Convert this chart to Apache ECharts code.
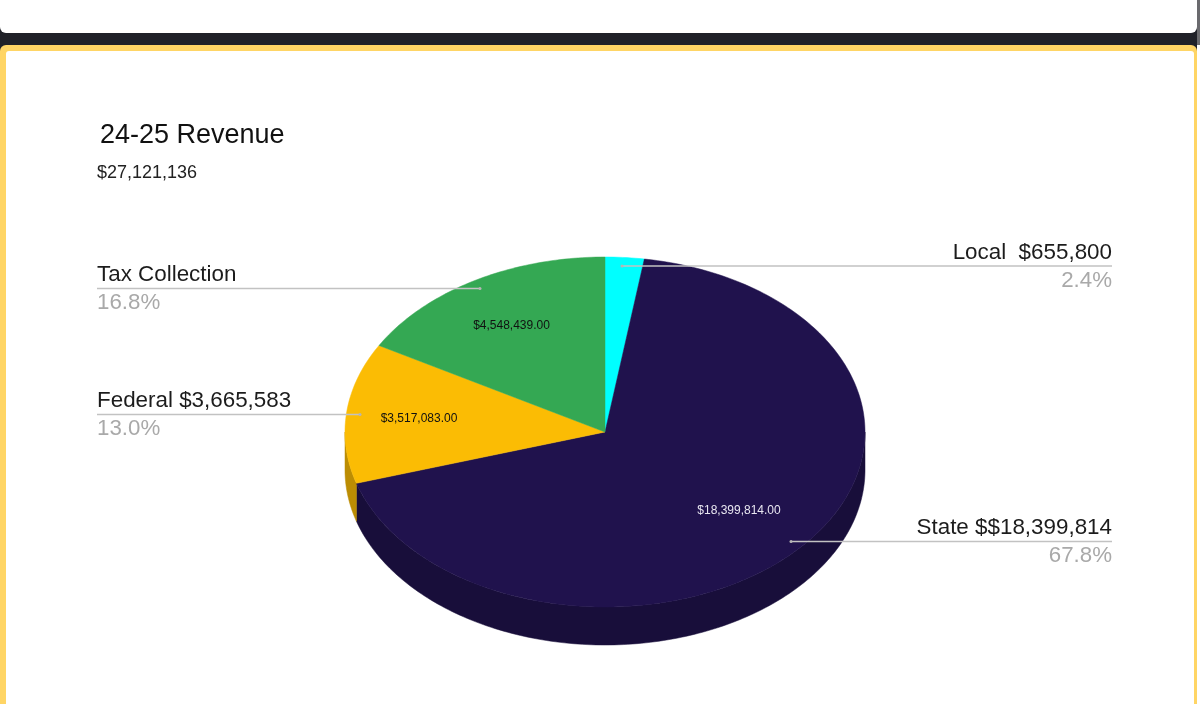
<!DOCTYPE html>
<html>
<head>
<meta charset="utf-8">
<style>html,body{margin:0;padding:0;background:#fff}#c{width:1200px;height:704px}</style>
<script src="https://cdn.jsdelivr.net/npm/echarts@6/dist/echarts.min.js"></script>
</head>
<body>
<div id="c"></div>
<script>
const categories = ['Local', 'State', 'Federal', 'Tax Collection'];
const values = [655800, 18399814, 3517083, 4548439];
const outerLabels = ['Local  $655,800', 'State $$18,399,814', 'Federal $3,665,583', 'Tax Collection'];
const percentLabels = ['2.4%', '67.8%', '13.0%', '16.8%'];
const valueLabels = ['', '$18,399,814.00', '$3,517,083.00', '$4,548,439.00'];
const titleText = '24-25 Revenue';
const subtitleText = '$27,121,136';

const topColors = ['#00FFFF', '#20124D', '#FBBC04', '#34A853'];
const sideColors = ['#00BFBF', '#180E3A', '#BC8D03', '#277E3E'];
const valueColors = ['#000', '#E8E6F0', '#111', '#111'];

const PIE = { cx: 605, cy: 432, rx: 260, ry: 175, depth: 38 };
// leader: anchor x, line y, line end x, text align, value-label centre
const LAYOUT = [
  { ax: 622, ly: 265.5, ex: 1112, align: 'right', vx: 0, vy: 0 },
  { ax: 791, ly: 541, ex: 1112, align: 'right', vx: 739, vy: 511 },
  { ax: 360, ly: 414, ex: 97, align: 'left', vx: 419, vy: 419 },
  { ax: 480, ly: 288, ex: 97, align: 'left', vx: 511.5, vy: 326 }
];

const total = values.reduce((a, b) => a + b, 0);
const rad = d => d * Math.PI / 180;
const pt = (deg, dy) => [
  PIE.cx + PIE.rx * Math.sin(rad(deg)),
  PIE.cy - PIE.ry * Math.cos(rad(deg)) + (dy || 0)
];
function arc(from, to, dy) {
  const n = Math.max(2, Math.ceil(Math.abs(to - from)));
  const out = [];
  for (let i = 0; i <= n; i++) out.push(pt(from + (to - from) * i / n, dy));
  return out;
}

function renderSlice(params, api) {
  const i = params.dataIndex;
  let acc = 0;
  for (let k = 0; k < i; k++) acc += values[k];
  const a0 = acc / total * 360;
  const a1 = (acc + api.value(0)) / total * 360;
  const children = [];

  const s0 = Math.max(a0, 90), s1 = Math.min(a1, 270);
  if (s1 > s0) {
    const side = arc(s0, s1, 0).concat(arc(s1, s0, PIE.depth));
    children.push({
      type: 'polygon', z2: 1, shape: { points: side },
      style: { fill: sideColors[i], stroke: sideColors[i], lineWidth: 0.5 }
    });
  }
  const top = [[PIE.cx, PIE.cy]].concat(arc(a0, a1, 0));
  children.push({
    type: 'polygon', z2: 2, shape: { points: top },
    style: { fill: topColors[i], stroke: topColors[i], lineWidth: 0.5 }
  });
  return { type: 'group', children };
}

function renderAnnotation(params, api) {
  const i = params.dataIndex;
  const L = LAYOUT[i];
  const children = [];
  children.push({
    type: 'line', z2: 5,
    shape: { x1: L.ax, y1: L.ly + 0.5, x2: L.ex, y2: L.ly + 0.5 },
    style: { stroke: '#C2C2C2', lineWidth: 1.4 }
  });
  children.push({
    type: 'circle', z2: 6, shape: { cx: L.ax, cy: L.ly + 0.5, r: 1.5 },
    style: { fill: '#B5B5B5' }
  });
  children.push({
    type: 'text', z2: 7,
    style: {
      x: L.ex, y: L.ly - 13, text: outerLabels[i], align: L.align, verticalAlign: 'middle',
      fill: '#1c1c1c', font: '22.4px "Liberation Sans", Arial, sans-serif'
    }
  });
  children.push({
    type: 'text', z2: 7,
    style: {
      x: L.ex, y: L.ly + 15, text: percentLabels[i], align: L.align, verticalAlign: 'middle',
      fill: '#A9A9A9', font: '22.3px "Liberation Sans", Arial, sans-serif'
    }
  });
  if (valueLabels[i]) {
    children.push({
      type: 'text', z2: 7,
      style: {
        x: L.vx, y: L.vy, text: valueLabels[i], align: 'center', verticalAlign: 'middle',
        fill: valueColors[i], font: '12px "Liberation Sans", Arial, sans-serif'
      }
    });
  }
  return { type: 'group', children };
}

const seriesData = categories.map((name, i) => ({ name, value: [values[i]] }));

const chart = echarts.init(document.getElementById('c'), null, { renderer: 'canvas' });
chart.setOption({
  animation: false,
  backgroundColor: '#ffffff',
  title: [
    { text: titleText, left: 100, top: 122, padding: 0,
      textStyle: { fontFamily: '"Liberation Sans", Arial, sans-serif', fontSize: 27, fontWeight: 'normal', color: '#111' } },
    { text: subtitleText, left: 97, top: 164, padding: 0,
      textStyle: { fontFamily: '"Liberation Sans", Arial, sans-serif', fontSize: 18, fontWeight: 'normal', color: '#222' } }
  ],
  tooltip: { show: false },
  graphic: [
    { type: 'rect', z: -5, shape: { x: 0, y: 26, width: 1197, height: 30 }, style: { fill: '#202128' } },
    { type: 'rect', z: -4, shape: { x: 0, y: -10, width: 1197, height: 43, r: [0, 0, 6, 6] }, style: { fill: '#ffffff' } },
    { type: 'rect', z: -4, shape: { x: 1197, y: 0, width: 3, height: 45 }, style: { fill: '#6A6A6E' } },
    { type: 'rect', z: -3, shape: { x: 0, y: 45, width: 1197, height: 700, r: [6, 6, 0, 0] }, style: { fill: '#FFD565' } },
    { type: 'rect', z: -2, shape: { x: 6, y: 51, width: 1188, height: 700, r: [3, 3, 0, 0] }, style: { fill: '#ffffff' } }
  ],
  series: [
    { type: 'custom', name: 'Revenue', coordinateSystem: 'none', renderItem: renderSlice, data: seriesData, z: 2, silent: true, clip: false },
    { type: 'custom', name: 'Labels', coordinateSystem: 'none', renderItem: renderAnnotation, data: seriesData, z: 3, silent: true, clip: false }
  ]
});
</script>
</body>
</html>
